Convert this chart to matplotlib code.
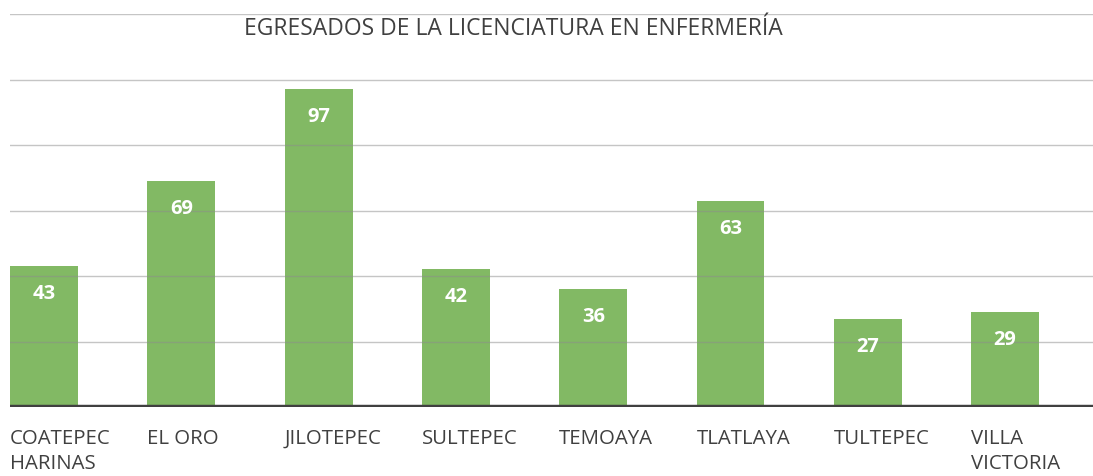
import matplotlib
matplotlib.use("Agg")
import matplotlib.pyplot as plt
import matplotlib.transforms as mtransforms

categories = ["COATEPEC\nHARINAS", "EL ORO", "JILOTEPEC", "SULTEPEC", "TEMOAYA",
              "TLATLAYA", "TULTEPEC", "VILLA\nVICTORIA"]
values = [43, 69, 97, 42, 36, 63, 27, 29]
title = "EGRESADOS DE LA LICENCIATURA EN ENFERMERÍA"

plt.rcParams['font.family'] = ['Open Sans', 'DejaVu Sans']

fig = plt.figure(figsize=(10.93, 4.77), dpi=100)
W, H = 1093, 477
ax = fig.add_axes([10 / W, 1 - 408 / H, (1093 - 10) / W, (408 - 15) / H])

bw = 0.495
x = list(range(len(values)))
ax.bar(x, values, width=bw, color="#82b964", zorder=2)

for yv in [20, 40, 60, 80, 100, 120]:
    ax.axhline(yv, color="#8c8c8c", lw=1.0, alpha=0.5, zorder=3)
ax.axhline(0, color="#404040", lw=3.2, zorder=4)

ax.set_xlim(-bw / 2, 7.64)
ax.set_ylim(0, 120)
ax.axis("off")

for xi, v in zip(x, values):
    ax.annotate(str(v), (xi, v), xytext=(0, -27), textcoords="offset pixels",
                ha="center", va="center", color="white", fontsize=14.5,
                fontweight="bold", zorder=5)

trans = mtransforms.blended_transform_factory(ax.transData, fig.transFigure)
for xi, c in zip(x, categories):
    fig.text(xi - bw / 2, 1 - 429 / H, c, transform=trans, ha="left", va="top",
             fontsize=14.7, color="#404040", linespacing=1.36)

fig.text(513 / W, 1 - 29 / H, title, ha="center", va="center", fontsize=16.5, color="#404040")

fig.savefig("out.png", dpi=100)
